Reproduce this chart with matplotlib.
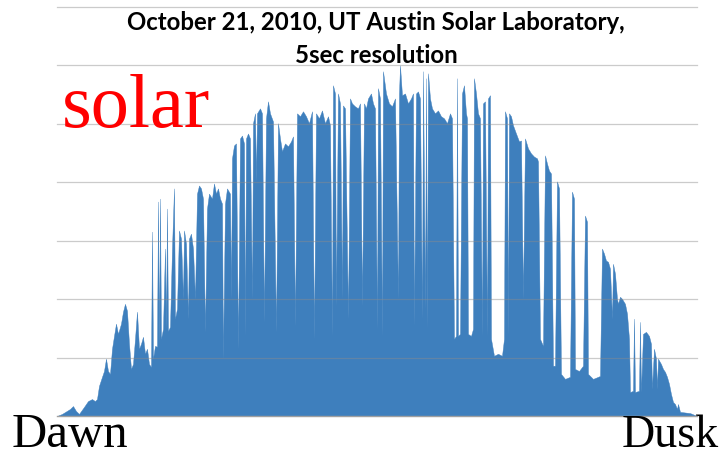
import matplotlib
matplotlib.use("Agg")
import matplotlib.pyplot as plt
import numpy as np

# irradiance trace as (minutes after dawn, W/m^2) pairs
morning = [
    (0, 0), (5, 7), (13, 24), (16, 34), (19, 17), (22, 7), (27, 31), (31, 51), (35, 58), (38, 51),
    (40, 58), (42, 103), (45, 134), (47, 154), (49, 196), (51, 154), (53, 144), (55, 230), (57, 274),
    (59, 316), (61, 281), (64, 316), (66, 357), (68, 384), (70, 360), (72, 247), (74, 161), (76, 178),
    (78, 264), (80, 357), (82, 230), (84, 247), (86, 271), (88, 213), (90, 230), (92, 178), (94, 168),
    (95, 631), (96, 196), (98, 240), (100, 237), (101, 734), (102, 247), (103, 744), (104, 264),
    (106, 298), (108, 573), (109, 298), (110, 710), (111, 291), (113, 305), (115, 573), (117, 779),
    (118, 333), (120, 367), (122, 635), (124, 607), (126, 401), (127, 635), (129, 590), (131, 333),
    (132, 607), (134, 624), (136, 573), (138, 401), (140, 761), (142, 789), (144, 779), (146, 744),
    (148, 288), (150, 710), (152, 761), (155, 744), (157, 796), (159, 761), (161, 779), (163, 744),
    (165, 727), (166, 196), (168, 727), (170, 779), (173, 761), (174, 401), (175, 882), (177, 926),
    (179, 933), (181, 230), (183, 950), (185, 960), (187, 933), (188, 274), (189, 950), (191, 967),
    (193, 950), (195, 401), (196, 1002), (198, 1036), (199, 803), (200, 1036), (203, 1053),
]
midday = [
    (205, 1036), (207, 322), (209, 1019), (211, 1077), (213, 1036), (216, 1008), (219, 288),
    (221, 1002), (223, 950), (225, 906), (228, 933), (231, 923), (234, 940), (236, 957), (238, 309),
    (240, 1036), (243, 1026), (246, 1043), (249, 1026), (252, 1002), (255, 1043), (257, 264),
    (259, 1036), (262, 1019), (265, 1046), (268, 1002), (271, 1026), (273, 995), (275, 274),
    (276, 1132), (278, 1104), (279, 377), (281, 1104), (283, 1070), (285, 401), (286, 1063),
    (288, 1053), (291, 333), (293, 1087), (295, 1070), (298, 1060), (301, 1053), (303, 1070),
    (305, 377), (307, 1070), (309, 1053), (311, 1087), (314, 1104), (316, 1070), (318, 1053),
    (320, 298), (321, 1122), (323, 1087), (325, 274), (326, 1180), (329, 1104), (332, 1070),
    (335, 1060), (338, 1087), (341, 401), (342, 1104), (343, 1200), (345, 1098), (348, 1104),
    (351, 1070), (354, 1087), (356, 1104), (357, 309), (359, 1104), (361, 1111), (363, 1087),
    (365, 333), (366, 1180), (368, 367), (369, 1156), (370, 298), (371, 1173), (373, 1087),
    (375, 1053), (378, 1036), (381, 1046), (384, 1026), (387, 1019), (390, 1002), (393, 1036),
    (395, 1019), (397, 264), (399, 274), (400, 1156), (401, 274), (403, 281), (405, 1104),
    (407, 1132), (409, 1036), (410, 1019), (411, 281), (414, 274), (416, 298), (417, 1156),
    (419, 1104), (421, 1036), (423, 1019), (425, 274), (426, 1070), (428, 1077), (430, 274),
    (431, 1087), (433, 1098), (434, 264), (437, 206), (441, 213), (445, 206), (447, 264),
]
afternoon = [
    (448, 1043), (450, 1019), (451, 274), (452, 1036), (454, 1026), (456, 995), (459, 967),
    (462, 940), (464, 943), (466, 401), (468, 950), (471, 916), (474, 899), (477, 888), (480, 882),
    (481, 871), (483, 264), (486, 240), (488, 892), (490, 864), (492, 840), (494, 830), (496, 172),
    (498, 172), (500, 803), (502, 779), (504, 144), (508, 127), (513, 134), (515, 768), (517, 744),
    (518, 161), (522, 154), (526, 172), (528, 686), (530, 665), (531, 144), (536, 127), (541, 134),
    (543, 137), (545, 573), (547, 556), (549, 532), (551, 528), (553, 504), (555, 333), (556, 521),
    (558, 487), (560, 401), (561, 384), (563, 408), (565, 401), (568, 384), (570, 350), (572, 264),
    (573, 82), (576, 86), (577, 333), (578, 82), (582, 86), (583, 322), (584, 82), (586, 281),
    (589, 288), (592, 274), (594, 247), (595, 93), (597, 230), (599, 196), (600, 93), (601, 196),
    (604, 178), (606, 161), (608, 151), (610, 134), (612, 110), (614, 75), (616, 48), (618, 41),
    (620, 24), (621, 41), (623, 14), (633, 10), (640, 0),
]

grid_levels = [200, 400, 600, 800, 1000, 1200, 1400]

trace = np.array(morning + midday + afternoon, dtype=float)
minutes, irradiance = trace[:, 0], trace[:, 1]

fig = plt.figure(figsize=(7.25, 4.56), dpi=100)
ax = fig.add_axes([57 / 725, 39 / 456, 640 / 725, 409 / 456])

ax.fill_between(minutes, irradiance, 0, color="#3e7fbd", linewidth=0.3, edgecolor="#3e7fbd")

ax.set_xlim(0, 640)
ax.set_ylim(0, 1400)
ax.set_xticks([])
ax.set_yticks([])
for lvl in grid_levels:
    ax.axhline(lvl, color="#8c8c8c", alpha=0.45, linewidth=0.9, zorder=3, clip_on=False)
for side in ["top", "right", "left"]:
    ax.spines[side].set_visible(False)
ax.spines["bottom"].set_color("#a0a0a0")
ax.spines["bottom"].set_linewidth(1.0)

fig.text(376 / 725, 1 - 23 / 456, "October 21, 2010, UT Austin Solar Laboratory,",
         ha="center", va="center", fontsize=17.3, fontweight="bold", family="Lato")
fig.text(376 / 725, 1 - 56 / 456, "5sec resolution",
         ha="center", va="center", fontsize=17.3, fontweight="bold", family="Lato")

fig.text(62 / 725, 1 - 127 / 456, "solar", color="red", fontsize=55,
         family="Liberation Serif", ha="left", va="baseline")
fig.text(12 / 725, 1 - 447 / 456, "Dawn", color="black", fontsize=35,
         family="Liberation Serif", ha="left", va="baseline")
fig.text(719 / 725, 1 - 447 / 456, "Dusk", color="black", fontsize=33,
         family="Liberation Serif", ha="right", va="baseline")

fig.savefig("out.png", dpi=100)
